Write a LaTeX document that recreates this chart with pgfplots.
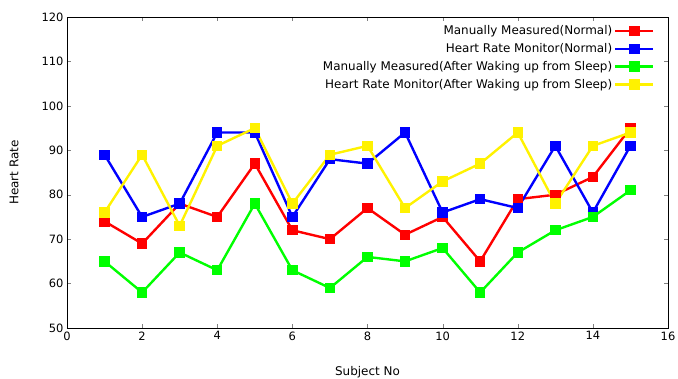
\documentclass[border=0pt]{standalone}
\usepackage{pgfplots}
\pgfplotsset{compat=1.18}
\usepackage{fontspec}
\setmainfont{DejaVu Sans}
\begin{document}
\begin{tikzpicture}[x=1bp,y=1bp]
\path[use as bounding box] (-67bp,-51bp) rectangle (611bp,328bp);
\begin{axis}[
  at={(0,0)}, anchor=south west,
  scale only axis, width=601bp, height=311bp,
  xmin=0, xmax=16, ymin=50, ymax=120,
  xtick={0,2,...,16}, ytick={50,60,...,120},
  tick align=inside,
  ticklabel style={font=\fontsize{11.5}{12}\selectfont},
  /pgf/number format/assume math mode=true,
  xlabel={Subject No}, ylabel={Heart Rate},
  every axis x label/.style={at={(axis description cs:0.5,0)}, anchor=center, yshift=-44bp, font=\fontsize{12}{13}\selectfont},
  every axis y label/.style={at={([xshift=-53bp]axis description cs:0,0.5)}, rotate=90, anchor=center, font=\fontsize{12}{13}\selectfont},
  axis line style={black, line width=0.8pt},
  legend style={draw=none, fill=none, font=\fontsize{12}{13}\selectfont, legend cell align=right, row sep=3.2bp, at={(0.983,0.985)}, anchor=north east},
  legend plot pos=right,
  legend image code/.code={\draw[mark repeat=2, mark phase=2, #1] plot coordinates {(0bp,0bp) (19bp,0bp) (38bp,0bp)};},
  every axis plot/.append style={line width=2.4pt, mark=square*, mark size=4bp},
]
\addplot[red, mark options={red}] coordinates {(1,74)(2,69)(3,78)(4,75)(5,87)(6,72)(7,70)(8,77)(9,71)(10,75)(11,65)(12,79)(13,80)(14,84)(15,95)};
\addlegendentry{Manually Measured(Normal)}
\addplot[blue, mark options={blue}] coordinates {(1,89)(2,75)(3,78)(4,94)(5,94)(6,75)(7,88)(8,87)(9,94)(10,76)(11,79)(12,77)(13,91)(14,76)(15,91)};
\addlegendentry{Heart Rate Monitor(Normal)}
\addplot[green, mark options={green}] coordinates {(1,65)(2,58)(3,67)(4,63)(5,78)(6,63)(7,59)(8,66)(9,65)(10,68)(11,58)(12,67)(13,72)(14,75)(15,81)};
\addlegendentry{Manually Measured(After Waking up from Sleep)}
\addplot[yellow, mark options={yellow}] coordinates {(1,76)(2,89)(3,73)(4,91)(5,95)(6,78)(7,89)(8,91)(9,77)(10,83)(11,87)(12,94)(13,78)(14,91)(15,94)};
\addlegendentry{Heart Rate Monitor(After Waking up from Sleep)}
\end{axis}
\end{tikzpicture}
\end{document}
